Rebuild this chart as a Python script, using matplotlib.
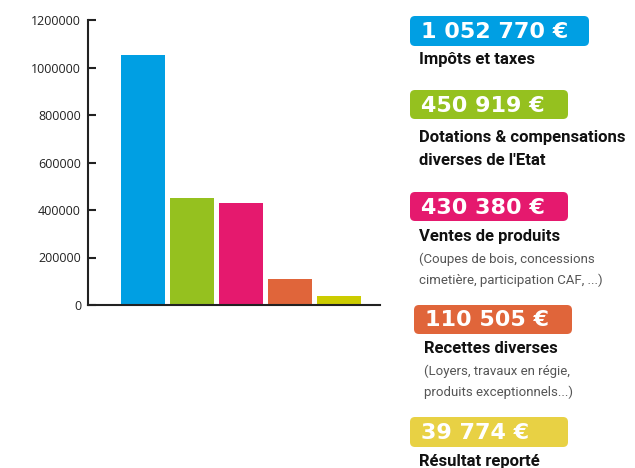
import matplotlib.pyplot as plt
from matplotlib.patches import FancyBboxPatch

categories = ["Impôts et taxes",
              "Dotations & compensations\ndiverses de l'Etat",
              "Ventes de produits",
              "Recettes diverses",
              "Résultat reporté"]
details = ["",
           "",
           "(Coupes de bois, concessions\ncimetière, participation CAF, ...)",
           "(Loyers, travaux en régie,\nproduits exceptionnels...)",
           ""]
values = [1052770, 450919, 430380, 110505, 39774]
yticks = [0, 200000, 400000, 600000, 800000, 1000000, 1200000]

bar_colors = ["#009FE3", "#95C11F", "#E5196E", "#E0653A", "#CCCC00"]
box_colors = ["#009FE3", "#95C11F", "#E5196E", "#E0653A", "#E8D144"]

# legend layout in pixels (x0, y0, x1, y1) and label baselines
boxes = [(410, 16, 589, 46), (410, 90, 568, 119), (410, 192, 568, 221),
         (414, 305, 572, 334), (410, 417, 568, 447)]
title_y = [64, 142, 241, 353, 466]
label_x = [419, 419, 419, 424, 419]

narrow = ["Liberation Sans Narrow", "Roboto", "DejaVu Sans"]

fig = plt.figure(figsize=(6.35, 4.68), dpi=100)
ax = fig.add_axes([88 / 635, 1 - 305 / 468, (380 - 88) / 635, (305 - 20) / 468])
ax.bar(range(len(values)), values, width=0.9, color=bar_colors)
ax.set_xlim(-1.12, 4.84)
ax.set_ylim(0, 1200000)
ax.set_yticks(yticks)
ax.set_yticklabels([str(t) for t in yticks], fontsize=9, color="#222222",
                   family=["Open Sans", "DejaVu Sans"])
ax.set_xticks([])
ax.tick_params(axis="y", direction="in", length=6, width=1.5, color="#222222", pad=5)
for s in ["top", "right"]:
    ax.spines[s].set_visible(False)
for s in ["left", "bottom"]:
    ax.spines[s].set_linewidth(1.5)
    ax.spines[s].set_color("#222222")

# overlay in pixel coordinates for the legend boxes
ov = fig.add_axes([0, 0, 1, 1])
ov.set_xlim(0, 635)
ov.set_ylim(468, 0)
ov.axis("off")

for i, v in enumerate(values):
    x0, y0, x1, y1 = boxes[i]
    ov.add_patch(FancyBboxPatch((x0, y0), x1 - x0, y1 - y0,
                                boxstyle="round,pad=0,rounding_size=5",
                                facecolor=box_colors[i], edgecolor="none"))
    txt = f"{v:,}".replace(",", " ") + " €"
    ov.text(x0 + 11, (y0 + y1) / 2 + 1, txt, color="white", fontsize=16,
            fontweight="bold", va="center", ha="left", family="DejaVu Sans")
    lines = categories[i].split("\n")
    y = title_y[i]
    for ln in lines:
        ov.text(label_x[i], y, ln, fontsize=12, fontweight="bold", color="#111111",
                va="baseline", ha="left", family=narrow)
        y += 23
    if details[i]:
        y -= 1
        for ln in details[i].split("\n"):
            ov.text(label_x[i], y, ln, fontsize=9.5, color="#555555",
                    va="baseline", ha="left", family=narrow)
            y += 21

fig.savefig("out.png", dpi=100)
